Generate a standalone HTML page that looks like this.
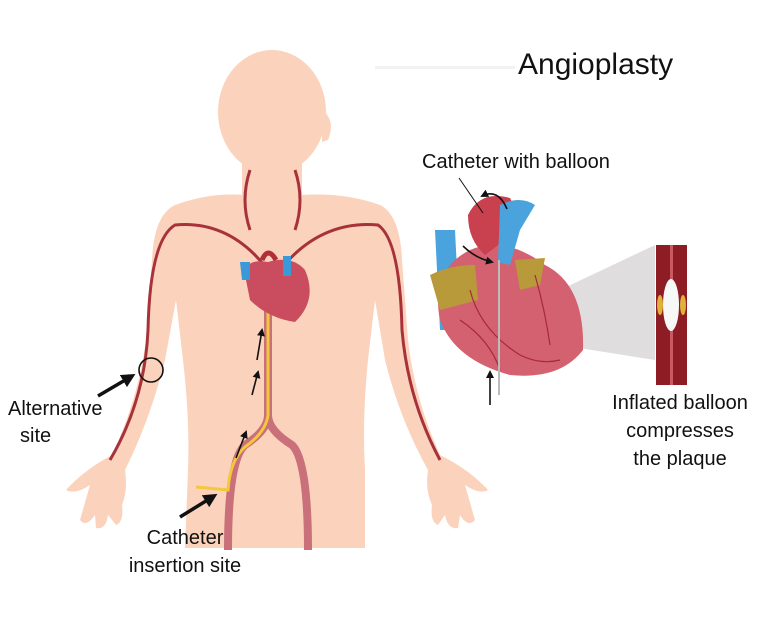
<!DOCTYPE html>
<html><head><meta charset="utf-8"><style>
html,body{margin:0;padding:0;background:#fff;}
svg{display:block}
text{font-family:"Liberation Sans",sans-serif;fill:#111}
</style></head><body>
<svg width="774" height="619" viewBox="0 0 774 619" xmlns="http://www.w3.org/2000/svg">
<defs>
<marker id="ah" markerUnits="userSpaceOnUse" markerWidth="8" markerHeight="8" refX="6" refY="4" orient="auto"><path d="M0,0 L8,4 L0,8 z" fill="#111"/></marker>
<marker id="ahb" markerUnits="userSpaceOnUse" markerWidth="14" markerHeight="14" refX="10" refY="7" orient="auto"><path d="M0,0 L14,7 L0,14 z" fill="#111"/></marker>
</defs>
<rect x="375" y="66" width="140" height="3" fill="#f2f2f2"/>
<g fill="#fbd2bc">
<ellipse cx="272" cy="112" rx="54" ry="62"/>
<path d="M322,110 q14,10 6,30 l-6,2 z"/>
<rect x="242" y="150" width="60" height="55"/>
<path d="M175,205 Q210,192 245,195 L300,195 Q345,192 380,205 Q400,215 402,260 L408,340 Q415,400 440,455 Q470,470 488,490 Q480,495 465,485 L475,520 Q468,528 460,515 L458,528 Q448,530 445,515 L438,525 Q430,522 432,505 Q425,490 428,470 Q400,420 385,360 L375,300 L368,360 Q362,420 365,470 L365,548 L185,548 L188,470 Q190,420 183,360 L176,300 L165,360 Q150,420 125,470 Q128,490 122,505 Q124,522 116,525 L108,515 Q106,530 96,528 L95,515 Q86,528 80,520 L90,485 Q75,495 66,490 Q84,470 112,455 Q138,400 146,340 L152,260 Q154,215 175,205 z"/>
</g>
<g fill="none" stroke="#a8323a" stroke-width="3">
<path d="M268,270 Q230,220 175,225 Q150,240 148,330 Q145,400 110,460"/>
<path d="M280,270 Q320,220 378,225 Q400,240 402,330 Q408,400 440,460"/>
<path d="M250,230 Q240,200 250,170"/>
<path d="M295,230 Q305,200 295,170"/>
</g>
<g fill="none" stroke="#c9707a" stroke-width="8">
<path d="M268,310 L268,415 Q268,430 245,445 Q228,460 228,550"/>
<path d="M268,415 Q268,430 292,445 Q308,460 308,550"/>
</g>
<path d="M268,310 L268,415 Q266,432 245,447 Q230,460 228,490 L196,487" fill="none" stroke="#f3c83a" stroke-width="3"/>
<path d="M245,275 Q245,258 268,262 Q292,255 305,270 Q318,300 295,322 Q268,318 250,300 z" fill="#c94d5f"/>
<path d="M240,262 l10,0 l0,18 l-8,0z" fill="#3a9ad9"/>
<path d="M283,256 l8,0 l0,20 l-8,0z" fill="#3a9ad9"/>
<path d="M262,260 q6,-14 14,0" fill="none" stroke="#b0303a" stroke-width="5"/>
<g stroke="#111" stroke-width="1.6" fill="none" marker-end="url(#ah)">
<path d="M257,360 L262,330"/>
<path d="M252,395 L258,372"/>
<path d="M236,458 L246,432"/>
</g>
<g stroke="#111" stroke-width="3.5" marker-end="url(#ahb)">
<line x1="98" y1="396" x2="132" y2="376"/>
<line x1="180" y1="517" x2="214" y2="496"/>
</g>
<circle cx="151" cy="370" r="12" fill="none" stroke="#111" stroke-width="1.6"/>
<path d="M435,230 l20,0 l5,100 l-20,0 z" fill="#4aa3dd"/>
<path d="M560,290 L655,245 L655,360 L560,345 z" fill="#d8d4d6" opacity="0.8"/>
<path d="M470,250 Q505,235 545,265 Q585,285 583,350 Q560,380 510,375 Q455,360 440,320 Q430,270 470,250 z" fill="#d4616f"/>
<path d="M468,215 Q480,190 510,198 Q520,215 505,240 L485,255 Q468,240 468,215 z" fill="#c9404e"/>
<path d="M500,205 Q520,195 535,205 L520,230 L510,265 L498,262 z" fill="#4aa3dd"/>
<path d="M430,275 Q450,265 475,265 L478,300 L440,310 z" fill="#b99a3a"/>
<path d="M515,260 L545,258 L540,285 L520,290 z" fill="#b99a3a"/>
<g fill="none" stroke="#a8283a" stroke-width="1.2">
<path d="M470,290 Q480,330 520,355 Q540,365 560,360"/>
<path d="M535,275 Q545,310 550,345"/>
<path d="M460,320 Q490,340 500,370"/>
</g>
<line x1="499" y1="260" x2="499" y2="395" stroke="#bbb" stroke-width="2"/>
<g stroke="#111" stroke-width="1.6" fill="none" marker-end="url(#ah)">
<path d="M507,209 Q498,188 482,196"/>
<path d="M463,246 Q475,258 492,262"/>
<path d="M490,405 L490,372"/>
</g>
<line x1="459" y1="178" x2="483" y2="213" stroke="#111" stroke-width="1"/>
<rect x="656" y="245" width="31" height="140" fill="#8e1c24"/>
<rect x="670" y="245" width="3" height="140" fill="#c85a62"/>
<ellipse cx="671" cy="305" rx="8" ry="26" fill="#f7f7f7"/>
<ellipse cx="660" cy="305" rx="3" ry="10" fill="#e0b23a"/>
<ellipse cx="683" cy="305" rx="3" ry="10" fill="#e0b23a"/>
<text x="518" y="74" font-size="30">Angioplasty</text>
<text x="422" y="168" font-size="20">Catheter with balloon</text>
<text x="680" y="409" font-size="20" text-anchor="middle">Inflated balloon</text>
<text x="680" y="437" font-size="20" text-anchor="middle">compresses</text>
<text x="680" y="465" font-size="20" text-anchor="middle">the plaque</text>
<text x="8" y="415" font-size="20">Alternative</text>
<text x="20" y="442" font-size="20">site</text>
<text x="185" y="544" font-size="20" text-anchor="middle">Catheter</text>
<text x="185" y="572" font-size="20" text-anchor="middle">insertion site</text>
</svg>
</body></html>
